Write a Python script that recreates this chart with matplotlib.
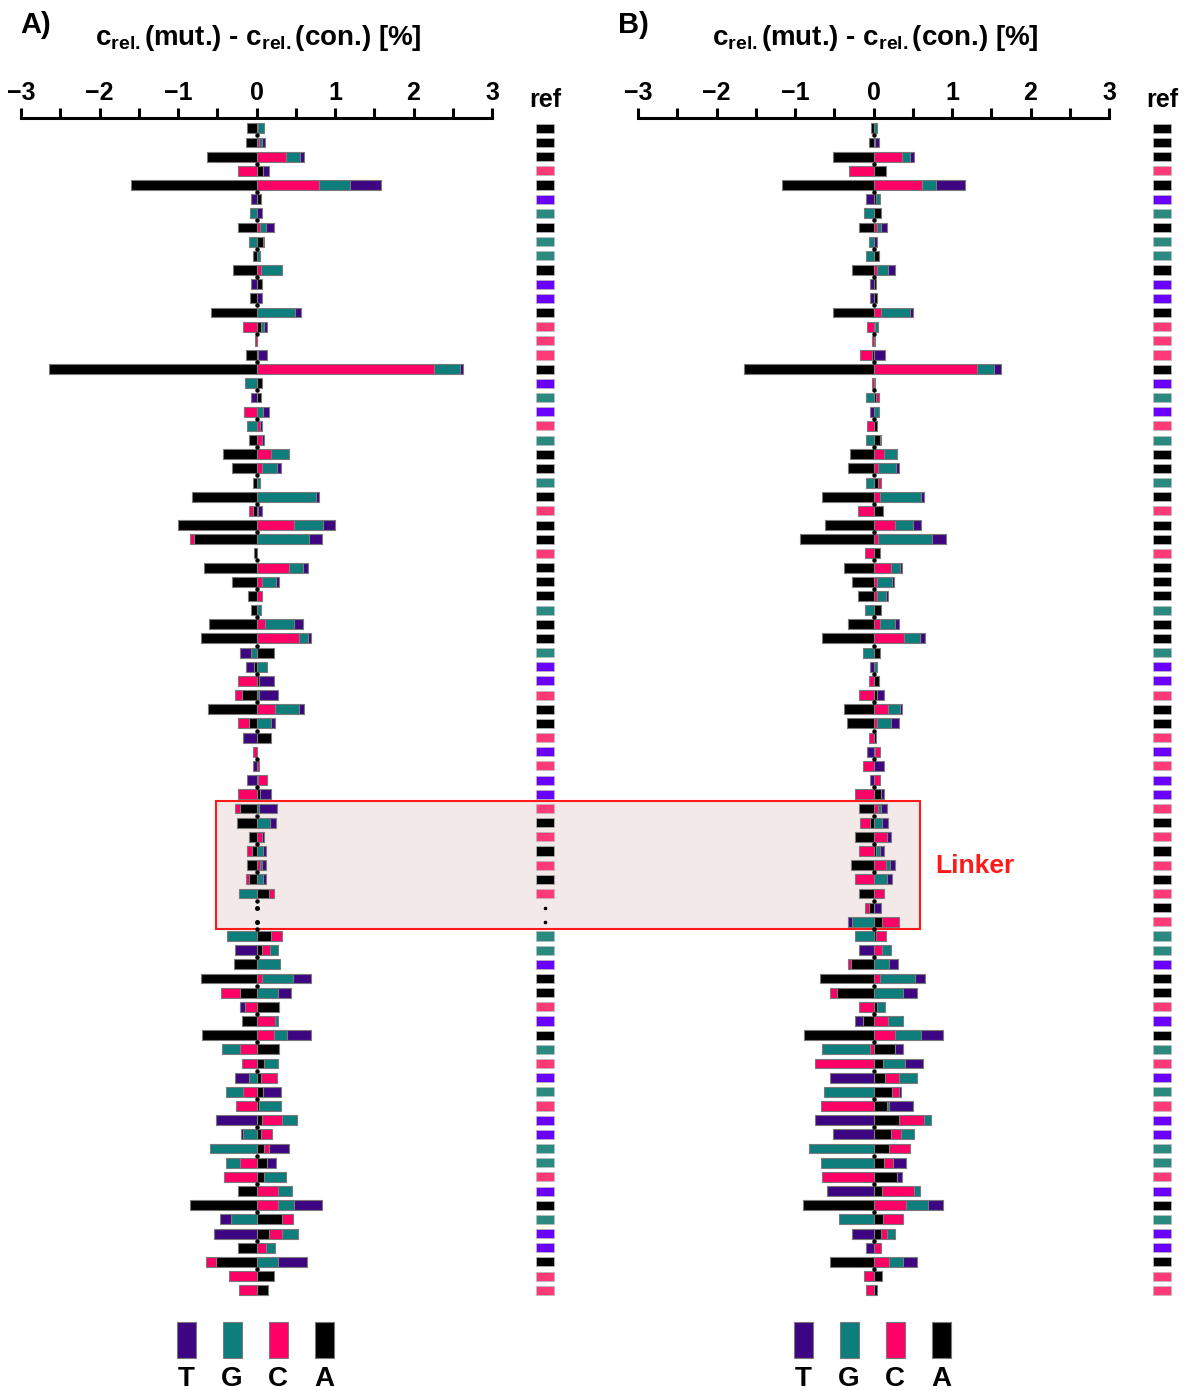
import numpy as np
import matplotlib.pyplot as plt
from matplotlib.patches import Rectangle

plt.rcParams['font.family'] = ['Liberation Sans', 'DejaVu Sans']
plt.rcParams['font.weight'] = 'bold'
plt.rcParams['mathtext.fontset'] = 'custom'
plt.rcParams['mathtext.rm'] = 'Liberation Sans:bold'
plt.rcParams['mathtext.bf'] = 'Liberation Sans:bold'
plt.rcParams['mathtext.it'] = 'Liberation Sans:bold'

nan = np.nan

# reference base for each position ('.' = gap shown as dots)
ref_A = list('AAACATGAGGATTAC' 'CCATGTCGAAGACAA'
             'CAAAGAAGTTCAACT' 'CTTCACACAC..GGT'
             'AACTAGCTGCTTGGC' 'TAGTTACC')
ref_B = list('AAACATGAGGATTAC' 'CCATGTCGAAGACAA'
             'CAAAGAAGTTCAACT' 'CTTCACACACACGGT'
             'AACTAGCTGCTTGGC' 'TAGTTACC')

# panel A: c_rel(mut.) - c_rel(con.) [%] per nucleotide
A_A = [-0.12, -0.13, -0.63, 0.08, -1.60, 0.06, 0, -0.23, 0.08, -0.05,
       -0.30, 0.07, -0.08, -0.58, 0.06, 0.01, -0.14, -2.64, 0.07, 0.06,
       0, 0, -0.10, -0.43, -0.31, -0.05, -0.82, -0.04, -1.00, -0.79,
       -0.035, -0.67, -0.31, -0.11, -0.07, -0.60, -0.71, 0.22, -0.03, 0.03,
       -0.19, -0.62, -0.10, 0.18, 0, 0, 0.02, 0.04, -0.21, -0.25,
       -0.10, -0.06, -0.12, -0.10, 0.16, nan, nan, 0.18, 0.07, -0.29,
       -0.71, -0.21, 0.29, -0.18, -0.70, 0.29, 0.10, 0.06, 0.08, 0.03,
       0.07, 0.06, 0.09, 0.14, 0.10, -0.24, -0.85, 0.32, 0.16, -0.23,
       -0.51, 0.22, 0.15]
A_C = [0.02, 0.03, 0.37, -0.24, 0.80, 0, 0, 0.05, 0.02, 0,
       0.06, 0, 0, 0, -0.17, -0.02, 0, 2.26, 0, 0,
       -0.16, 0.04, 0.07, 0.18, 0.07, 0, 0, -0.05, 0.48, -0.06,
       0, 0.42, 0.07, 0.07, 0, 0.11, 0.54, 0, 0, -0.23,
       -0.08, 0.24, -0.14, 0, -0.05, 0.03, 0.11, -0.24, -0.06, 0,
       0.07, -0.06, 0.05, -0.04, 0.06, nan, nan, 0.15, 0.10, 0,
       0.07, -0.24, -0.15, 0.23, 0.22, -0.21, -0.19, 0.20, -0.17, -0.26,
       0.25, 0.14, 0.07, -0.21, -0.41, 0.28, 0.28, 0.14, 0.16, 0.12,
       -0.13, -0.35, -0.22]
A_G = [0.08, 0.04, 0.18, 0, 0.39, 0, -0.08, 0.07, -0.10, 0.04,
       0.27, 0, 0, 0.49, 0.03, 0, 0.02, 0.33, -0.15, 0,
       0.08, -0.12, 0, 0.24, 0.19, 0.04, 0.76, 0.02, 0.37, 0.67,
       0, 0.17, 0.18, 0, 0.06, 0.37, 0.12, -0.07, 0.13, 0,
       0.03, 0.30, 0.18, 0, 0, 0, 0, 0, 0.03, 0.17,
       0, 0.08, 0.02, 0.08, -0.22, nan, nan, -0.37, 0.11, 0.30,
       0.40, 0.28, 0, 0.05, 0.17, -0.23, 0.17, -0.10, -0.22, 0.28,
       0.19, -0.17, -0.59, -0.18, 0.28, 0.17, 0.20, -0.33, 0.21, 0.12,
       0.27, 0, 0]
A_T = [0, 0.04, 0.06, 0.08, 0.40, -0.07, 0.07, 0.10, 0, 0,
       0, -0.07, 0.07, 0.08, 0.04, 0, 0.11, 0.04, 0, -0.07,
       0.08, 0.03, 0.03, 0, 0.05, 0, 0.03, 0.05, 0.15, 0.17,
       0, 0.06, 0.04, 0, 0, 0.11, 0.03, -0.14, -0.10, 0.19,
       0.24, 0.07, 0.05, -0.17, 0, -0.04, -0.12, 0.15, 0.23, 0.08,
       0.03, 0.04, 0.05, 0.04, 0, nan, nan, 0, -0.28, 0,
       0.22, 0.16, -0.06, 0, 0.30, 0, 0, -0.17, 0.23, 0,
       -0.51, -0.03, 0.25, 0.11, 0, 0, 0.36, -0.13, -0.54, 0,
       0.37, 0, 0]

# panel B
B_A = [-0.035, -0.06, -0.52, 0.16, -1.17, 0.03, 0.10, -0.18, 0, 0.07,
       -0.28, 0.03, 0.04, -0.51, 0.02, 0.02, -0.02, -1.65, 0.02, 0.03,
       0, 0.04, 0.08, -0.30, -0.33, 0.06, -0.65, 0.12, -0.62, -0.93,
       0.08, -0.37, -0.27, -0.20, 0.10, -0.33, -0.66, 0.08, 0, 0.07,
       0.04, -0.37, -0.34, 0.03, 0.02, 0, 0, 0.10, -0.18, -0.05,
       -0.23, 0.03, -0.29, 0, -0.18, -0.06, 0.11, 0.03, 0.01, -0.29,
       -0.68, -0.46, 0.05, -0.14, -0.89, 0.27, 0.12, 0.15, 0.24, 0.17,
       0.32, 0.22, 0.20, 0.13, 0.30, 0.11, -0.90, 0.12, 0.09, 0,
       -0.55, 0.11, 0.04]
B_C = [0, 0.025, 0.36, -0.31, 0.62, 0, 0, 0.05, 0, 0,
       0.05, 0, 0, 0.09, -0.08, -0.02, -0.15, 1.32, -0.02, 0.04,
       0, -0.08, 0.02, 0.13, 0.06, 0.03, 0.08, -0.20, 0.28, 0.06,
       -0.11, 0.22, 0.04, 0.05, 0, 0.08, 0.39, 0, 0, -0.06,
       -0.19, 0.18, 0.04, -0.06, 0.06, -0.14, 0.08, -0.23, 0.06, -0.12,
       0.17, -0.18, 0.16, -0.24, 0.13, -0.05, 0.22, 0.13, 0.10, -0.03,
       0.08, -0.10, -0.18, 0.18, 0.27, -0.04, -0.74, 0.17, 0.08, -0.67,
       0.32, 0.13, 0.26, 0.12, -0.65, 0.40, 0.42, 0.26, 0.08, 0.09,
       0.20, -0.12, -0.09]
B_G = [0.04, 0, 0.10, 0, 0.17, 0.05, -0.12, 0.04, -0.06, -0.10,
       0.13, 0, 0, 0.37, 0.04, 0, 0, 0.22, 0, -0.10,
       0.07, 0, -0.10, 0.17, 0.23, -0.10, 0.53, 0, 0.22, 0.69,
       0, 0.12, 0.20, 0.11, -0.11, 0.19, 0.20, -0.13, 0.05, 0,
       0, 0.16, 0.18, 0, 0, 0, 0, 0, 0.03, 0.11,
       0, 0.05, 0.05, 0.17, 0, 0, -0.27, -0.24, 0.11, 0.20,
       0.45, 0.37, 0.10, 0.20, 0.34, -0.61, 0.28, 0.23, -0.63, 0.03,
       0.09, 0.16, -0.82, -0.67, 0, 0.08, 0.28, -0.44, 0.11, 0,
       0.18, 0, 0]
B_T = [0, 0.04, 0.05, 0, 0.38, -0.10, 0, 0.08, 0.05, 0,
       0.09, -0.04, -0.05, 0.04, 0, 0, 0.15, 0.08, 0, 0,
       -0.05, 0, 0, 0, 0.03, 0, 0.03, 0, 0.11, 0.17,
       0, 0.02, 0.02, 0.03, 0, 0.05, 0.06, 0, -0.05, 0,
       0.10, 0.02, 0.10, 0, -0.08, 0.13, -0.05, 0.03, 0.08, 0.07,
       0.05, 0.06, 0.07, 0.06, 0, 0.10, -0.05, 0, -0.19, 0.11,
       0.13, 0.18, 0, -0.10, 0.27, 0.11, 0.23, -0.55, 0.03, 0.30,
       -0.74, -0.52, 0, 0.17, 0.06, -0.59, 0.19, 0, -0.27, -0.09,
       0.17, 0, 0]

bases = ['A', 'C', 'G', 'T']
bar_colors = {'A': '#000000', 'C': '#FF0066', 'G': '#0E7E7C', 'T': '#3E0582'}
ref_colors = {'A': '#000000', 'C': '#FF3A76', 'G': '#2A8A80', 'T': '#6A00FF'}

W, H = 1184, 1391
fig = plt.figure(figsize=(W / 100, H / 100), dpi=100)

n = len(A_A)
rows = np.arange(1, n + 1)
px_unit = 78.5      # pixels per 1 %
row_px = 14.17      # pixels per row
row1_px = 128.3
ax_top, ax_bot = 118, 1300
y_top = 1 - (row1_px - ax_top) / row_px
y_bot = 1 + (ax_bot - row1_px) / row_px
xmax = 3.9


def px_box(x0, x1, y0, y1):
    return [x0 / W, 1 - y1 / H, (x1 - x0) / W, (y1 - y0) / H]


def draw_panel(left_px, series, ref):
    ax = fig.add_axes(px_box(left_px, left_px + (xmax + 3) * px_unit, ax_top, ax_bot))
    ax.patch.set_alpha(0)
    pos = np.zeros(n)
    neg = np.zeros(n)
    for b in bases:
        v = np.array(series[b], dtype=float)
        ok = ~np.isnan(v) & (v != 0)
        v0 = np.nan_to_num(v)
        start = np.where(v0 >= 0, pos, neg)
        ax.barh(rows[ok], v0[ok], left=start[ok], height=0.7,
                color=bar_colors[b], edgecolor='#7a7a7a', linewidth=0.8, zorder=2)
        pos += np.clip(v0, 0, None)
        neg += np.clip(v0, None, 0)

    # zero marks between rows
    ax.plot(np.zeros(n - 1)[::2], (rows[:-1] + 0.5)[::2], 'o', color='k', ms=2.2, zorder=3)

    # reference column
    ref_x, ref_w = 3.557, 0.237
    for i, r in enumerate(ref):
        if r == '.':
            continue
        ax.barh(rows[i], ref_w, left=ref_x, height=0.64, color=ref_colors[r],
                edgecolor='#bbbbbb', linewidth=0.5, zorder=2)
    gap = [i + 1 for i, r in enumerate(ref) if r == '.']
    ax.plot(np.full(len(gap), ref_x + ref_w / 2), gap, 'o', color='k', ms=1.6, zorder=3)
    ax.text(ref_x + ref_w / 2, 1 + (100 - row1_px) / row_px, 'ref', ha='center',
            va='center', fontsize=18, fontweight='bold')

    ax.set_xlim(-3, xmax)
    ax.set_ylim(y_bot, y_top)
    for s in ['left', 'right', 'bottom']:
        ax.spines[s].set_visible(False)
    ax.spines['top'].set_bounds(-3, 3)
    ax.spines['top'].set_linewidth(2.2)
    ax.xaxis.set_ticks_position('top')
    ax.set_xticks([-3, -2, -1, 0, 1, 2, 3])
    ax.set_xticks(np.arange(-2.5, 3, 1), minor=True)
    ax.tick_params(axis='x', which='both', direction='out', length=7, width=2.2,
                   labelsize=18, pad=2)
    ax.set_yticks([])
    for t in ax.get_xticklabels():
        t.set_fontweight('bold')
    return ax


axA = draw_panel(21, {'A': A_A, 'C': A_C, 'G': A_G, 'T': A_T}, ref_A)
axB = draw_panel(638, {'A': B_A, 'C': B_C, 'G': B_G, 'T': B_T}, ref_B)

# missing positions in panel A shown as dots
gapA = [i + 1 for i, v in enumerate(A_A) if np.isnan(v)]
axA.plot(np.zeros(len(gapA)), gapA, 'o', color='k', ms=2.6, zorder=3)

# panel letters and axis titles
title = r'c$_{\mathbf{rel.}}$(mut.) - c$_{\mathbf{rel.}}$(con.) [%]'
for x_letter, x_title, letter in [(20, 258, 'A)'), (618, 875, 'B)')]:
    fig.text(x_letter / W, 1 - 25 / H, letter, fontsize=21, fontweight='bold',
             ha='left', va='center')
    fig.text(x_title / W, 1 - 38 / H, title, fontsize=20, fontweight='bold',
             ha='center', va='center')

# linker box
fig.add_artist(Rectangle((216 / W, 1 - 929 / H), (920 - 216) / W, (929 - 801) / H,
                         transform=fig.transFigure, facecolor='#F4E9E9',
                         edgecolor='#FF1A1A', linewidth=1.5, zorder=-1))
fig.text(935 / W, 1 - 866 / H, 'Linker', color='#FF1A1A', fontsize=19,
         fontweight='bold', ha='left', va='center')

# legends
for lefts in [(177, 223, 269, 315), (794, 840, 886, 932)]:
    for x0, b in zip(lefts, ['T', 'G', 'C', 'A']):
        fig.add_artist(Rectangle((x0 / W, 1 - 1358 / H), 18.5 / W, 36 / H,
                                 transform=fig.transFigure, facecolor=bar_colors[b],
                                 edgecolor='#7a7a7a', linewidth=0.8))
        fig.text((x0 + 9) / W, 1 - 1379 / H, b, fontsize=20, fontweight='bold',
                 ha='center', va='center')

fig.savefig('out.png', dpi=100)
